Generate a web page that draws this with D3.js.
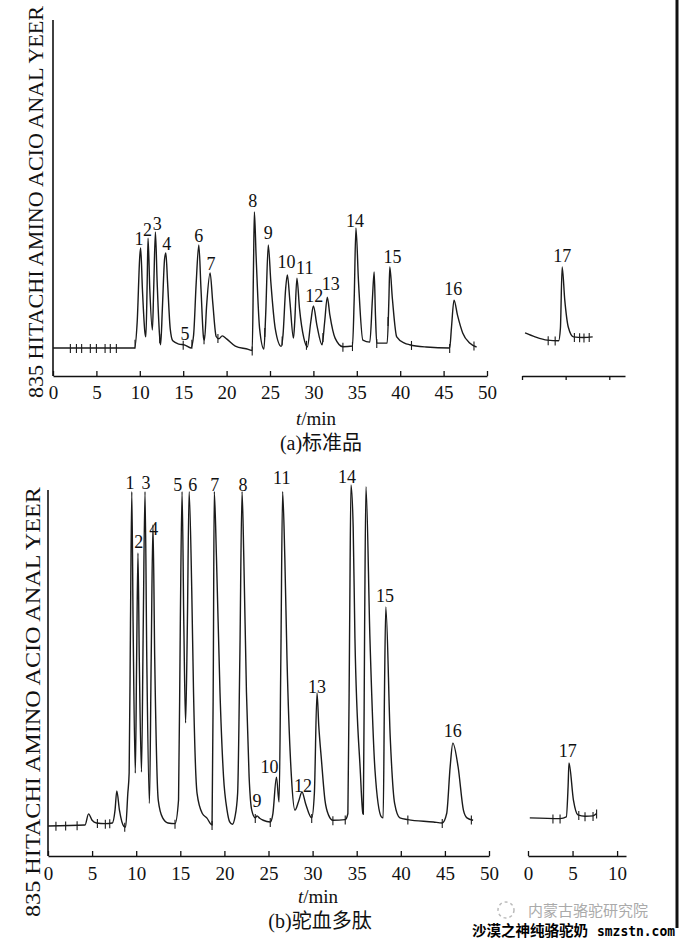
<!DOCTYPE html>
<html>
<head>
<meta charset="utf-8">
<script src="https://cdn.jsdelivr.net/npm/d3@7"></script>
<style>
  body { margin: 0; background: #fff; }
  svg { display: block; }
  text { font-family: "Liberation Serif", "DejaVu Serif", "Noto Sans CJK SC", serif; fill: #111; }
</style>
</head>
<body>
<div id="chart"></div>
<script>
// chromatogram traces: [time (min), signal (% of full scale)]
var traceA = [
  [0, 0], [9.4, 0], [9.7, 8], [10.0, 28], [10.1, 30.5], [10.3, 18], [10.6, 4.5], [10.7, 3.4],
  [10.85, 20], [10.95, 33.5], [11.15, 18], [11.45, 5.5], [11.6, 18], [11.8, 35.4], [12.0, 20],
  [12.3, 3], [12.4, 1], [12.6, 12], [12.85, 27], [13.0, 29], [13.2, 20], [13.5, 6], [13.8, 2.2],
  [14.5, 1.2], [15.2, 0.9], [15.9, 0], [16.2, 4], [16.5, 20], [16.8, 31.4], [17.05, 18],
  [17.35, 3], [17.45, 2.4], [17.7, 13], [18.1, 22.9], [18.4, 14], [18.8, 3.5], [19.1, 2.8],
  [19.5, 3.7], [20.0, 2.8], [21.0, 0.6], [22.5, -0.4], [22.95, -0.8], [23.1, 25], [23.2, 41.5],
  [23.4, 28], [23.8, 6], [24.3, -0.3], [24.5, 10], [24.8, 31.4], [25.1, 20], [25.6, 6],
  [26.3, 0.5], [26.5, 4], [26.8, 18], [27.0, 22.3], [27.3, 14], [27.7, 3], [27.85, 8],
  [28.1, 21.3], [28.4, 12], [28.9, 3], [29.3, 0.3], [29.7, 8], [30.0, 12.8], [30.4, 7],
  [31.0, 1], [31.3, 8], [31.6, 15.5], [31.9, 10], [32.5, 3], [33.4, 0.4], [34.5, 0.6],
  [34.7, 15], [34.9, 36.6], [35.2, 20], [35.7, 2.4], [36.5, 1.8], [36.8, 15], [37.0, 23.2],
  [37.15, 10], [37.3, 1.5], [38.5, 1.5], [38.7, 15], [38.8, 24.7], [39.1, 15], [39.6, 3.4],
  [40.5, 1.5], [41.1, 1], [43, 0.3], [45.7, 0], [45.9, 6], [46.2, 14.6], [46.6, 10],
  [47.2, 4.6], [48.0, 1.5], [48.8, 0.3]
];
var traceA17 = [
  [0.35, 4.6], [1.5, 3.4], [2.9, 2.4], [4.2, 2.2], [4.4, 6], [4.6, 24.7], [4.9, 14.6],
  [5.3, 6.4], [5.9, 3.4], [7.0, 3.2], [8.1, 3.4]
];
var traceB = [
  [0, 0.3], [4.2, 0.6], [4.6, 3.9], [5.0, 2.0], [5.5, 1.2], [6.5, 1.0], [7.3, 1.2], [7.6, 5],
  [7.8, 10.7], [8.1, 5], [8.6, 0.2], [8.8, 0], [9.05, 10], [9.2, 16], [9.35, 60], [9.5, 99.5],
  [9.65, 60], [9.9, 16], [10.05, 50], [10.2, 81.3], [10.35, 50], [10.6, 16.3], [10.8, 60],
  [11.0, 99.5], [11.2, 50], [11.5, 7], [11.7, 50], [11.9, 89.6], [12.1, 50], [12.5, 8],
  [13.0, 2.7], [13.6, 1.2], [14.4, 1.0], [14.8, 8], [15.0, 60], [15.2, 99.5], [15.4, 60],
  [15.6, 30.9], [15.8, 60], [16.0, 99.5], [16.3, 70], [16.5, 40], [16.9, 10], [17.5, 4],
  [18.0, 2.7], [18.6, 0.6], [18.75, 50], [18.85, 99.5], [19.1, 80], [19.5, 40], [19.9, 15],
  [20.3, 5], [20.6, 1.5], [20.9, 0.8], [21.2, 3], [21.5, 10], [21.75, 50], [22.0, 99.5],
  [22.2, 80], [22.5, 40], [22.8, 15], [23.1, 5], [23.5, 2.7], [23.7, 3.3], [24.0, 2.6],
  [24.4, 2.0], [25.2, 1.5], [25.5, 4], [25.9, 14.8], [26.2, 7.4], [26.4, 50], [26.6, 99.5],
  [26.85, 80], [27.1, 49.6], [27.6, 14.8], [28.0, 5], [28.4, 7.5], [28.8, 10.4], [29.2, 7],
  [29.9, 2.7], [30.2, 10], [30.5, 39.8], [30.7, 30], [31.0, 20], [31.4, 8], [31.8, 3.6],
  [32.3, 2], [33.7, 2.2], [34.0, 4], [34.2, 60], [34.35, 101.5], [34.6, 89], [34.8, 56],
  [35.4, 17], [35.7, 4], [35.75, 3.8], [35.9, 60], [36.05, 101], [36.5, 56], [37.07, 17],
  [37.8, 3], [38.0, 2.7], [38.15, 40], [38.3, 65.3], [38.8, 26.7], [39.3, 7], [39.9, 2.7],
  [40.8, 2.2], [43.7, 1.5], [44.7, 1.2], [45.2, 4], [45.6, 18], [45.9, 24.9], [46.5, 17.8],
  [47.1, 5], [47.5, 2.7], [48.2, 2]
];
var traceB17 = [
  [0.2, 2.7], [3.6, 2.5], [4.3, 3], [4.5, 12], [4.6, 19], [5.1, 8], [5.6, 3.6], [6.4, 3.2],
  [7.3, 3.3], [7.7, 4]
];

// integrator marks on the traces (min)
var marksA = [2.0, 2.7, 3.3, 4.3, 5.0, 6.0, 6.6, 7.3, 9.45, 12.3, 15.0, 16.0, 17.4, 19.0,
  22.95, 24.4, 26.4, 29.2, 31.1, 33.4, 34.5, 37.3, 38.6, 41.3, 45.7, 48.5];
var marksA17 = [3.0, 3.8, 6.0, 6.6, 7.1, 7.7];
var marksB = [0.9, 2.0, 3.3, 5.6, 6.5, 7.0, 8.7, 14.4, 18.6, 23.5, 25.2, 29.9, 32.3, 33.7,
  40.8, 44.7, 48.0];
var marksB17 = [2.8, 3.6, 5.7, 6.4, 7.3, 7.7];

// peak labels: [name, time, signal]
var labelsA = [["1", 9.9, 31.4], ["2", 10.9, 34.1], ["3", 12.0, 36.0], ["4", 13.1, 29.9],
  ["5", 15.2, 2.4], ["6", 16.8, 32.3], ["7", 18.2, 23.8], ["8", 23.0, 43.0], ["9", 24.8, 33.2],
  ["10", 26.9, 24.4], ["11", 29.0, 22.6], ["12", 30.1, 14.0], ["13", 32.0, 17.7],
  ["14", 34.8, 36.9], ["15", 39.1, 25.9], ["16", 46.1, 16.2]];
var labelsA17 = [["17", 4.6, 26.2]];
var labelsB = [["1", 9.3, 100.3], ["2", 10.3, 82.8], ["3", 11.1, 100.3], ["4", 12.0, 86.6],
  ["5", 14.7, 99.7], ["6", 16.4, 99.7], ["7", 18.9, 99.7], ["8", 22.1, 99.7], ["9", 23.7, 5.9],
  ["10", 25.1, 16], ["11", 26.5, 101.8], ["12", 28.9, 10.4], ["13", 30.5, 39.8],
  ["14", 33.9, 102], ["15", 38.2, 66.8], ["16", 45.9, 26.7]];
var labelsB17 = [["17", 4.46, 20.8]];

var xTicks = [0, 5, 10, 15, 20, 25, 30, 35, 40, 45, 50];
var insetTicks = [0, 5, 10];

var yTitle = "835 HITACHI AMINO ACIO ANAL YEER";
var xTitle = "/min";
var titleA = "(a)标准品";
var titleB = "(b)驼血多肽";

var width = 680, height = 942;

var svg = d3.select("#chart")
  .append("svg")
    .attr("width", width)
    .attr("height", height);

function valueAt(tr, t) {
  var i = d3.bisector(function(d) { return d[0]; }).left(tr, t);
  if (i <= 0) return tr[0][1];
  if (i >= tr.length) return tr[tr.length - 1][1];
  var a = tr[i - 1], b = tr[i];
  return a[1] + (b[1] - a[1]) * (t - a[0]) / (b[0] - a[0]);
}

function drawTrace(g, x, y, tr, marks, labels) {
  var line = d3.line()
    .x(function(d) { return x(d[0]); })
    .y(function(d) { return y(d[1]); })
    .curve(d3.curveMonotoneX);

  g.append("path")
    .datum(tr)
    .attr("d", line)
    .attr("fill", "none")
    .attr("stroke", "#1a1a1a")
    .attr("stroke-width", 1.4)
    .attr("stroke-linejoin", "round");

  g.selectAll(null)
    .data(marks)
    .enter().append("line")
      .attr("x1", function(d) { return x(d); })
      .attr("x2", function(d) { return x(d); })
      .attr("y1", function(d) { return y(valueAt(tr, d)) - 4; })
      .attr("y2", function(d) { return y(valueAt(tr, d)) + 5; })
      .attr("stroke", "#1a1a1a")
      .attr("stroke-width", 1.1);

  g.selectAll(null)
    .data(labels)
    .enter().append("text")
      .attr("x", function(d) { return x(d[1]); })
      .attr("y", function(d) { return y(d[2]); })
      .attr("text-anchor", "middle")
      .style("font-size", "18px")
      .text(function(d) { return d[0]; });
}

function drawPanel(p) {
  var g = svg.append("g");

  var x = d3.scaleLinear().domain([0, 50]).range(p.xRange);
  var xi = d3.scaleLinear().domain([0, p.insetMax]).range(p.insetRange);
  var y = d3.scaleLinear().domain([0, 100]).range([p.base, p.top]);

  // y axis is a bare line
  g.append("line")
    .attr("x1", x(0)).attr("x2", x(0))
    .attr("y1", y(100)).attr("y2", p.axisY)
    .attr("stroke", "#111")
    .attr("stroke-width", 1.6);

  var ax = g.append("g")
    .attr("transform", "translate(0," + p.axisY + ")")
    .call(d3.axisBottom(x).tickValues(xTicks).tickSize(-5).tickSizeOuter(0).tickPadding(p.pad));

  var axi = g.append("g")
    .attr("transform", "translate(0," + p.axisY + ")")
    .call(d3.axisBottom(xi).tickValues(insetTicks).tickSize(p.insetTickSize).tickSizeOuter(0)
      .tickPadding(p.pad + (p.insetTickSize > 0 ? -p.insetTickSize : 0))
      .tickFormat(p.insetLabels ? d3.format("d") : function() { return ""; }));

  [ax, axi].forEach(function(a) {
    a.select(".domain").attr("stroke", "#111").attr("stroke-width", 1.6);
    a.selectAll(".tick line").attr("stroke", "#111").attr("stroke-width", 1.3);
    a.selectAll(".tick text")
      .attr("fill", "#111")
      .style("font-family", "'Liberation Serif', serif")
      .style("font-size", "19px");
  });

  drawTrace(g, x, y, p.trace, p.marks, p.labels);
  drawTrace(g, xi, y, p.inset, p.insetMarks, p.insetLabelsPeak);

  g.append("text")
    .attr("transform", "translate(" + p.yTitle[0] + "," + p.yTitle[1] + ") rotate(-90)")
    .attr("text-anchor", "middle")
    .attr("textLength", p.yTitle[2])
    .attr("lengthAdjust", "spacingAndGlyphs")
    .style("font-size", "21px")
    .text(yTitle);

  var t = g.append("text")
    .attr("x", p.xTitle[0]).attr("y", p.xTitle[1])
    .attr("text-anchor", "middle")
    .style("font-size", "19px");
  t.append("tspan").style("font-style", "italic").text("t");
  t.append("tspan").text(xTitle);

  g.append("text")
    .attr("x", p.title[0]).attr("y", p.title[1])
    .attr("text-anchor", "middle")
    .style("font-size", "20px")
    .text(p.titleText);
}

drawPanel({
  trace: traceA, marks: marksA, labels: labelsA,
  inset: traceA17, insetMarks: marksA17, insetLabelsPeak: labelsA17,
  xRange: [53, 487], insetMax: 11.8, insetRange: [522, 625], insetTickSize: 4, insetLabels: false,
  base: 348, top: 20, axisY: 376, pad: 10,
  yTitle: [43, 202, 392], xTitle: [316, 425], title: [321, 450], titleText: titleA
});

drawPanel({
  trace: traceB, marks: marksB, labels: labelsB,
  inset: traceB17, insetMarks: marksB17, insetLabelsPeak: labelsB17,
  xRange: [48, 489], insetMax: 11, insetRange: [528, 626], insetTickSize: -5, insetLabels: true,
  base: 827, top: 490, axisY: 856, pad: 11,
  yTitle: [40, 702, 430], xTitle: [318, 903], title: [320, 928], titleText: titleB
});

// watermark at the bottom right
var wm = svg.append("g");
wm.append("circle")
  .attr("cx", 506).attr("cy", 910).attr("r", 8)
  .attr("fill", "none").attr("stroke", "#bbb").attr("stroke-width", 1.5)
  .attr("stroke-dasharray", "3,3");
wm.append("text")
  .attr("x", 528).attr("y", 916)
  .style("font-family", "'Noto Sans CJK SC', sans-serif")
  .style("font-size", "15px")
  .style("fill", "#aaa")
  .text("内蒙古骆驼研究院");
wm.append("text")
  .attr("x", 472).attr("y", 936)
  .style("font-family", "'Noto Sans CJK SC', sans-serif")
  .style("font-size", "14.5px")
  .style("font-weight", "bold")
  .style("fill", "#000")
  .text("沙漠之神纯骆驼奶");
wm.append("text")
  .attr("x", 597).attr("y", 936)
  .attr("textLength", 78)
  .attr("lengthAdjust", "spacingAndGlyphs")
  .style("font-family", "'DejaVu Sans Mono', monospace")
  .style("font-size", "14px")
  .style("font-weight", "bold")
  .style("fill", "#000")
  .text("smzstn.com");

// frame edge on the right
svg.append("line")
  .attr("x1", 677).attr("x2", 677)
  .attr("y1", 0).attr("y2", 928)
  .attr("stroke", "#111")
  .attr("stroke-width", 3);
</script>
</body>
</html>
